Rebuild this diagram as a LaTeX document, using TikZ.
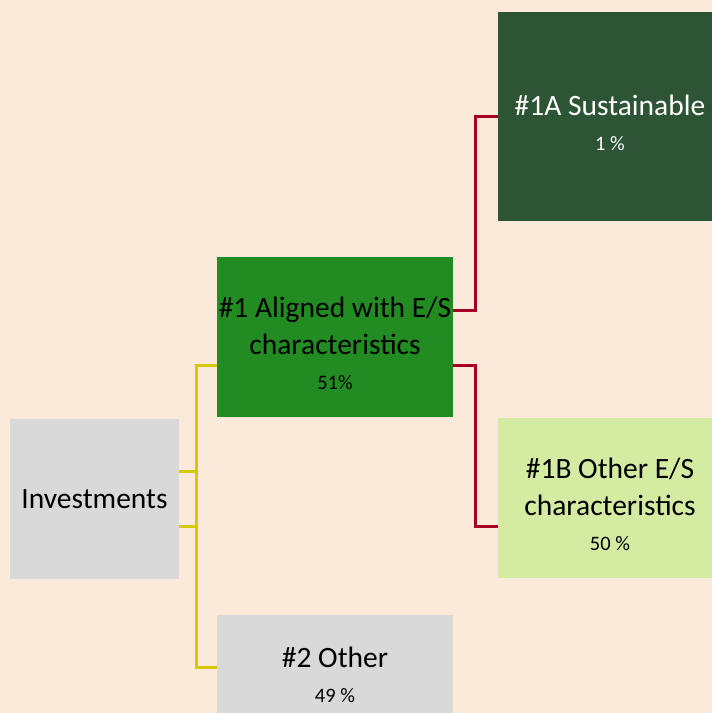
\documentclass[tikz,border=0pt]{standalone}
\usepackage{fontspec}
\setmainfont{Carlito}
\usetikzlibrary{positioning}
\definecolor{peach}{HTML}{FBE9DA}
\definecolor{boxgray}{HTML}{D9D9D9}
\definecolor{darkgreen}{HTML}{2C5435}
\definecolor{midgreen}{HTML}{228B22}
\definecolor{lightgreen}{HTML}{D4EBA2}
\definecolor{busyellow}{HTML}{D4CA00}
\definecolor{busred}{HTML}{A50021}
\newcommand{\pct}[1]{{\fontsize{20.5}{25}\selectfont #1}}
\newcommand{\topgap}{\rule{0pt}{34pt}}

\begin{document}
\begin{tikzpicture}[x=1pt,y=-1pt,
    box/.style={rectangle, inner sep=0pt, align=center, text=black,
      font=\fontsize{29.5}{37}\selectfont},
    ylink/.style={busyellow, line width=3pt},
    rlink/.style={busred, line width=3pt}]
    \useasboundingbox (0,0) rectangle (712,713);
    \fill[peach] (0,0) rectangle (712,713);
    \node[box, fill=boxgray, minimum width=169pt, minimum height=160pt] (inv) at (94.5,499) {Investments};
    \node[box, fill=midgreen, minimum width=236pt, minimum height=160pt] (aligned) at (335,337) {\topgap\#1 Aligned with E/S\\ characteristics\\[-2pt] \pct{51\%}};
    \node[box, fill=boxgray, minimum width=236pt, minimum height=120pt] (other) at (335,675) {\#2 Other\\[-2pt] \pct{49 \%}};
    \node[box, fill=darkgreen, text=white, minimum width=224pt, minimum height=209pt] (sust) at (610,116.5) {\topgap\#1A Sustainable\\[-2pt] \pct{1 \%}};
    \node[box, fill=lightgreen, minimum width=224pt, minimum height=160pt] (otheres) at (610,498) {\topgap\#1B Other E/S\\ characteristics\\[-2pt] \pct{50 \%}};
    \draw[ylink] ([yshift=28pt]inv.east) -- ++(18,0);
    \draw[ylink] ([yshift=-27pt]inv.east) -- ++(18,0);
    \draw[ylink] ([yshift=-28pt]aligned.west) -- ++(-20,0) |- ([yshift=8pt]other.west);
    \draw[rlink] ([yshift=27pt]aligned.east) -- ++(22,0) |- (sust.west);
    \draw[rlink] ([yshift=-28pt]aligned.east) -- ++(22,0) |- ([yshift=-28pt]otheres.west);
\end{tikzpicture}
\end{document}
